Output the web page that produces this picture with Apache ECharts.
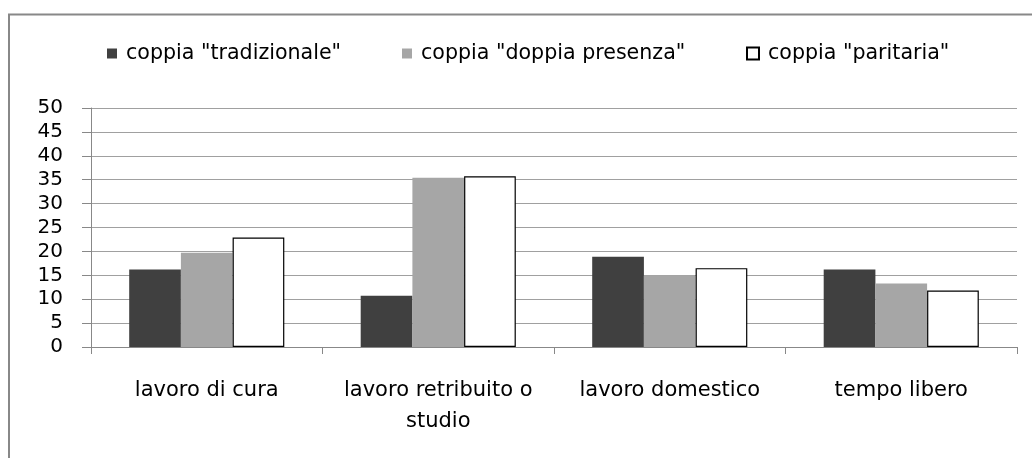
<!DOCTYPE html>
<html>
<head>
<meta charset="utf-8">
<script src="https://cdn.jsdelivr.net/npm/echarts@6/dist/echarts.min.js"></script>
<style>html,body{margin:0;padding:0;background:#fff}#c{width:1032px;height:458px}</style>
</head>
<body>
<div id="c"></div>
<script>
const categories = ['lavoro di cura', 'lavoro retribuito o\nstudio', 'lavoro domestico', 'tempo libero'];
const seriesNames = ['coppia "tradizionale"', 'coppia "doppia presenza"', 'coppia "paritaria"'];
const tradizionale = [16.2, 10.7, 18.9, 16.2];
const doppiaPresenza = [19.7, 35.4, 15.0, 13.3];
const paritaria = [22.9, 35.7, 16.5, 11.8];
const yTicks = [0, 5, 10, 15, 20, 25, 30, 35, 40, 45, 50];

const FONT = 'DejaVu Sans';
const chart = echarts.init(document.getElementById('c'), null, {renderer: 'canvas'});
function legendAt(left, name, size) {
  return {
    left: left, top: 43, padding: 0, orient: 'horizontal', data: [name],
    itemWidth: size, itemHeight: size, icon: 'rect', selectedMode: false,
    textStyle: {fontFamily: FONT, fontSize: 20.6, color: '#000', padding: [0, 0, 0, 4]}
  };
}
chart.setOption({
  animation: false,
  textStyle: {fontFamily: FONT},
  graphic: [
    {type: 'polyline', shape: {points: [[9, 470], [9, 14.5], [1040, 14.5]]}, style: {stroke: '#888', lineWidth: 2, fill: null}}
  ],
  legend: [
    legendAt(107, seriesNames[0], 10),
    legendAt(402, seriesNames[1], 10),
    legendAt(746, seriesNames[2], 12)
  ],
  grid: {left: 91, right: 15, top: 108, bottom: 111, containLabel: false},
  xAxis: {
    type: 'category', data: categories,
    axisLine: {lineStyle: {color: '#888', width: 1}},
    axisTick: {show: true, length: 7, lineStyle: {color: '#888'}},
    axisLabel: {fontFamily: FONT, fontSize: 21, color: '#000', margin: 28, lineHeight: 31, interval: 0}
  },
  yAxis: {
    type: 'value', min: yTicks[0], max: yTicks[yTicks.length - 1], interval: 5,
    axisLine: {show: true, lineStyle: {color: '#888', width: 1}},
    axisTick: {show: true, length: 9, lineStyle: {color: '#888'}},
    splitLine: {lineStyle: {color: '#a0a0a0', width: 1}},
    axisLabel: {fontFamily: FONT, fontSize: 20, color: '#000', margin: 28}
  },
  series: [
    {name: seriesNames[0], type: 'bar', data: tradizionale, barGap: '0%', barCategoryGap: '33%',
     itemStyle: {color: '#404040'}},
    {name: seriesNames[1], type: 'bar', data: doppiaPresenza, barGap: '0%', barCategoryGap: '33%',
     itemStyle: {color: '#a6a6a6'}},
    {name: seriesNames[2], type: 'bar', data: paritaria, barGap: '0%', barCategoryGap: '33%',
     itemStyle: {color: '#ffffff', borderColor: '#000', borderWidth: 1.2}}
  ]
});
</script>
</body>
</html>
